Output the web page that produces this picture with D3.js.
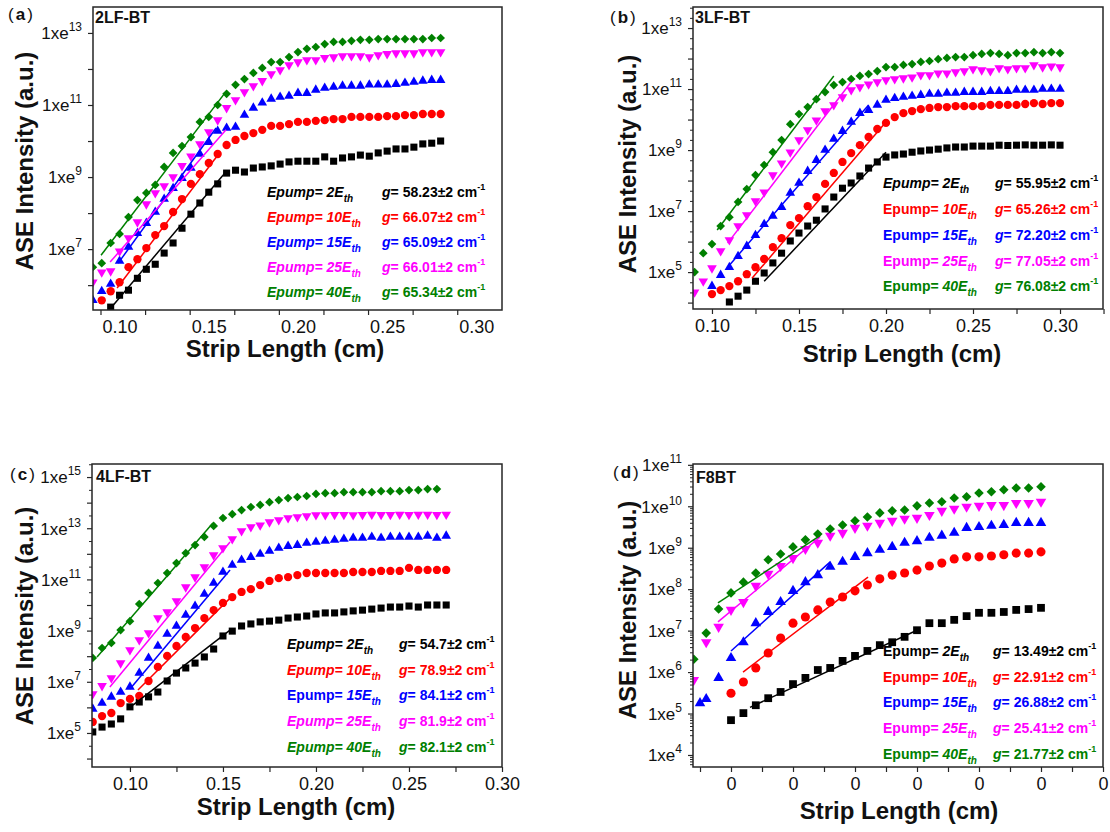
<!DOCTYPE html>
<html><head><meta charset="utf-8">
<script src="https://cdn.jsdelivr.net/npm/d3@7/dist/d3.min.js"></script>
<style>
body{margin:0;background:#fff;}
svg{display:block;font-family:"Liberation Sans",Arial,Helvetica,sans-serif;}
</style></head><body>
<svg id="chart" width="1110" height="832"></svg>
<script>
// ---------------- DATA ----------------
const PUMP = ["2", "10", "15", "25", "40"];           // Epump in units of E_th
const COLORS = ["#000000", "#ff0000", "#0000ff", "#ff00ff", "#008000"];
const SHAPES = ["square", "circle", "triUp", "triDown", "diamond"];

// (a) 2LF-BT  -- strip length (cm) and log10(ASE intensity)
const A_X = [0.085,0.09,0.095,0.10,0.105,0.11,0.115,0.12,0.125,0.13,0.135,0.14,0.145,0.15,0.155,0.16,0.165,0.17,0.175,0.18,0.185,0.19,0.195,0.20,0.205,0.21,0.215,0.22,0.225,0.23,0.235,0.24,0.245,0.25,0.255,0.26,0.265,0.27,0.275,0.28];
const A_LOG_2  = [null,null,5.39,5.72,5.86,6.19,6.44,6.58,6.89,7.17,7.58,7.97,8.28,8.58,8.81,9.11,9.19,9.14,9.25,9.28,9.31,9.36,9.42,9.44,9.44,9.44,9.56,9.44,9.53,9.56,9.61,9.58,9.67,9.72,9.78,9.78,9.83,9.92,9.94,10.00];
const A_LOG_10 = [null,5.58,5.83,6.08,6.50,6.72,7.03,7.39,7.64,8.03,8.39,8.81,9.08,9.39,9.64,9.89,10.03,10.14,10.22,10.31,10.42,10.42,10.47,10.53,10.53,10.56,10.58,10.61,10.61,10.67,10.67,10.67,10.67,10.69,10.69,10.72,10.72,10.75,10.75,10.75];
const A_LOG_15 = [5.58,5.83,6.03,6.67,7.06,7.44,7.72,8.03,8.39,8.69,8.97,9.25,9.64,9.97,10.28,10.36,10.39,10.72,10.92,11.06,11.17,11.22,11.25,11.33,11.33,11.42,11.47,11.50,11.53,11.53,11.53,11.56,11.56,11.56,11.58,11.61,11.64,11.67,11.69,11.69];
const A_LOG_25 = [6.08,6.36,6.39,6.94,7.31,7.75,8.25,8.56,8.75,9.00,9.31,9.58,9.92,10.25,10.58,10.92,11.14,11.36,11.53,11.67,11.86,11.97,12.11,12.19,12.25,12.25,12.31,12.33,12.36,12.36,12.36,12.33,12.39,12.42,12.44,12.44,12.44,12.47,12.47,12.47];
const A_LOG_40 = [6.50,6.61,7.17,7.42,7.89,8.36,8.56,8.78,9.28,9.67,9.86,10.11,10.53,10.67,11.00,11.31,11.56,11.72,11.89,12.03,12.19,12.19,12.33,12.47,12.56,12.61,12.69,12.75,12.75,12.78,12.81,12.81,12.83,12.83,12.83,12.83,12.83,12.83,12.86,12.86];
const A_FIT = [[0.095,5.36,0.160,9.17],[0.0986,5.92,0.1563,9.69],[0.0992,6.61,0.1541,10.36],[0.0947,6.64,0.1597,10.31],[0.0896,6.83,0.159,11.33]];
const A_GAIN = ["58.23","66.07","65.09","66.01","65.34"];

// (b) 3LF-BT
const B_X = [0.09,0.095,0.10,0.105,0.11,0.115,0.12,0.125,0.13,0.135,0.14,0.145,0.15,0.155,0.16,0.165,0.17,0.175,0.18,0.185,0.19,0.195,0.20,0.205,0.21,0.215,0.22,0.225,0.23,0.235,0.24,0.245,0.25,0.255,0.26,0.265,0.27,0.275,0.28,0.285,0.29,0.295,0.30];
const B_LOG_2  = [null,null,null,null,4.02,4.21,4.41,4.70,4.97,5.30,5.62,6.02,6.28,6.51,6.70,7.07,7.46,7.75,7.92,8.15,8.41,8.61,8.77,8.84,8.87,8.93,8.97,9.00,9.03,9.07,9.10,9.10,9.13,9.13,9.13,9.16,9.15,9.16,9.17,9.16,9.16,9.17,9.16];
const B_LOG_10 = [null,null,4.28,4.41,4.54,4.70,4.93,5.16,5.43,5.82,6.11,6.54,6.77,7.16,7.46,7.89,8.25,8.61,8.90,9.16,9.43,9.69,9.89,10.08,10.21,10.28,10.34,10.38,10.41,10.41,10.44,10.44,10.44,10.44,10.48,10.48,10.48,10.48,10.51,10.54,10.51,10.54,10.54];
const B_LOG_15 = [null,null,4.54,4.90,5.16,5.52,5.85,6.21,6.57,6.84,7.13,7.59,7.92,8.31,8.67,9.00,9.36,9.62,9.92,10.21,10.31,10.48,10.64,10.70,10.74,10.77,10.80,10.84,10.84,10.87,10.87,10.90,10.90,10.90,10.93,10.93,10.93,10.97,10.97,10.97,11.00,11.00,11.00];
const B_LOG_25 = [4.34,4.70,5.13,5.69,6.05,6.51,6.87,7.33,7.62,8.18,8.57,8.93,9.33,9.66,9.98,10.28,10.48,10.74,10.97,11.07,11.16,11.23,11.30,11.33,11.36,11.39,11.46,11.46,11.52,11.52,11.56,11.59,11.66,11.62,11.59,11.69,11.66,11.69,11.69,11.79,11.72,11.75,11.72];
const B_LOG_40 = [5.00,5.62,5.92,6.51,6.80,7.30,7.72,8.18,8.51,8.93,9.33,9.85,10.18,10.41,10.67,10.90,11.13,11.23,11.33,11.43,11.49,11.59,11.72,11.72,11.79,11.82,11.89,11.92,11.98,12.02,12.05,12.05,12.11,12.15,12.18,12.15,12.11,12.18,12.18,12.21,12.18,12.21,12.18];
const B_FIT = [[0.130,4.70,0.200,8.93],[0.123,4.80,0.200,9.92],[0.109,5.16,0.190,10.48],[0.109,5.95,0.180,11.23],[0.103,6.38,0.170,11.43]];
const B_GAIN = ["55.95","65.26","72.20","77.05","76.08"];

// (c) 4LF-BT
const C_X = [0.08,0.085,0.09,0.095,0.10,0.105,0.11,0.115,0.12,0.125,0.13,0.135,0.14,0.145,0.15,0.155,0.16,0.165,0.17,0.175,0.18,0.185,0.19,0.195,0.20,0.205,0.21,0.215,0.22,0.225,0.23,0.235,0.24,0.245,0.25,0.255,0.26,0.265,0.27];
const C_LOG_2  = [5.04,5.23,5.35,5.55,6.02,6.21,6.41,6.60,7.03,7.34,7.54,7.73,7.97,8.28,8.79,8.98,9.18,9.26,9.34,9.37,9.41,9.49,9.53,9.57,9.65,9.69,9.69,9.73,9.77,9.80,9.84,9.88,9.92,9.92,9.96,9.92,10.00,10.00,10.00];
const C_LOG_10 = [5.43,5.66,5.78,6.17,6.33,6.45,7.03,7.58,8.01,8.40,8.75,9.10,9.49,9.80,10.08,10.31,10.51,10.62,10.78,10.94,11.05,11.09,11.17,11.25,11.25,11.25,11.25,11.25,11.29,11.29,11.29,11.33,11.33,11.33,11.45,11.37,11.37,11.37,11.37];
const C_LOG_15 = [5.94,6.17,6.41,6.60,6.80,7.34,7.93,8.40,8.87,9.18,9.61,9.96,10.43,10.86,11.29,11.56,11.76,11.87,11.99,12.11,12.23,12.30,12.34,12.42,12.46,12.50,12.54,12.58,12.62,12.62,12.66,12.62,12.66,12.66,12.66,12.66,12.70,12.62,12.70];
const C_LOG_25 = [6.52,6.84,7.15,7.73,8.24,8.63,8.91,9.49,9.73,10.16,10.70,11.09,11.48,11.95,12.23,12.58,12.89,13.05,13.12,13.24,13.32,13.40,13.44,13.48,13.52,13.52,13.53,13.53,13.52,13.53,13.54,13.53,13.53,13.54,13.53,13.54,13.54,13.53,13.54];
const C_LOG_40 = [7.93,8.32,8.52,9.02,9.37,10.04,10.47,10.86,11.25,11.64,12.03,12.34,12.66,13.09,13.40,13.55,13.71,13.83,13.91,14.02,14.10,14.18,14.22,14.26,14.34,14.37,14.37,14.41,14.41,14.41,14.41,14.45,14.45,14.45,14.49,14.49,14.53,14.53,null];
const C_FIT = [[0.1016,6.09,0.1538,9.02],[0.1043,6.68,0.1538,10.27],[0.100,6.72,0.1538,11.37],[0.0892,6.80,0.1538,12.46],[0.0823,7.97,0.1446,13.20]];
const C_GAIN = ["54.7","78.9","84.1","81.9","82.1"];

// (d) F8BT
const D_X = [0.07,0.075,0.08,0.09,0.10,0.11,0.12,0.13,0.14,0.15,0.16,0.17,0.18,0.19,0.20,0.21,0.22,0.23,0.24,0.25,0.26,0.27,0.28,0.29,0.30,0.31,0.32,0.33,0.34,0.35];
const D_LOG_2  = [null,null,null,null,4.84,5.01,5.20,5.37,5.52,5.71,5.86,6.05,6.10,6.27,6.39,6.51,6.65,6.72,6.85,7.01,7.18,7.18,7.26,7.35,7.43,7.43,7.45,7.50,7.52,7.55];
const D_LOG_10 = [null,null,null,null,5.49,5.76,6.10,6.46,6.82,7.18,7.33,7.50,7.69,7.81,7.96,8.10,8.25,8.34,8.39,8.46,8.56,8.63,8.73,8.78,8.78,8.80,8.83,8.87,8.87,8.90];
const D_LOG_15 = [null,5.25,5.35,5.86,6.34,6.72,7.18,7.45,7.69,7.96,8.17,8.34,8.54,8.66,8.78,8.87,8.95,9.02,9.12,9.16,9.24,9.29,9.36,9.48,9.50,9.53,9.55,9.60,9.60,9.60];
const D_LOG_25 = [5.81,null,6.72,7.09,7.50,7.69,8.08,8.37,8.56,8.75,8.97,9.12,9.29,9.36,9.48,9.53,9.60,9.65,9.70,9.72,9.79,9.89,9.94,9.99,10.01,10.03,10.03,10.08,10.08,10.11];
const D_LOG_40 = [6.31,null,6.94,7.52,7.91,8.17,8.39,8.71,8.85,9.02,9.19,9.33,9.45,9.55,9.65,9.74,9.84,9.89,9.91,10.01,10.08,10.11,10.20,10.23,10.32,10.35,10.40,10.44,10.44,10.47];
const D_FIT = [[0.1153,5.15,0.25,7.01],[0.1097,6.00,0.2105,8.29],[0.100,6.51,0.18,8.66],[0.0895,7.21,0.1718,9.26],[0.0895,7.67,0.1718,9.29]];
const D_GAIN = ["13.49","22.91","26.88","25.41","21.77"];

// tick labels
const X_LABELS_ABC = [0.10,0.15,0.20,0.25,0.30];
const A_XTICK_MARKS = [0.0893,0.1143,0.1393,0.1643,0.1893,0.2143,0.2393,0.2643,0.2893];
const B_XTICK_MARKS = [0.10,0.125,0.15,0.175,0.20,0.225,0.25,0.275,0.30,0.325];
const C_XTICK_MARKS = [0.10,0.125,0.15,0.175,0.20,0.225,0.25,0.275,0.30];
const D_XTICK_MARKS = [0.075,0.10,0.125,0.15,0.175,0.20,0.225,0.25,0.275,0.30,0.325,0.35,0.375,0.40];
const D_X_LABELS = [0.10,0.15,0.20,0.25,0.30,0.35,0.40];
const A_Y_LABEL_EXP = [7,9,11,13];
const B_Y_LABEL_EXP = [5,7,9,11,13];
const C_Y_LABEL_EXP = [5,7,9,11,13,15];
const D_Y_LABEL_EXP = [4,5,6,7,8,9,10,11];

// ---------------- LAYOUT ----------------
const PANELS = [
  {tag:"a", name:"2LF-BT", rect:[93,7,502,310], xDomain:[0.0851,0.3144], yLog:[5.31,13.72],
   xs:A_X, series:[A_LOG_2,A_LOG_10,A_LOG_15,A_LOG_25,A_LOG_40], fits:A_FIT, gains:A_GAIN,
   xLabels:X_LABELS_ABC, xMarks:A_XTICK_MARKS, xFmt:".2f", yLabels:A_Y_LABEL_EXP, minor:"none",
   tagPos:[8,20], namePos:[95,23], yTitle:[33,161], xTitle:[285,357],
   legX:[267,382], legY:[197,222,247,272,297], legItalic:[1,1,1,1,1], mscale:1},
  {tag:"b", name:"3LF-BT", rect:[693,7,1103,309], xDomain:[0.0891,0.3247], yLog:[3.79,13.69],
   xs:B_X, series:[B_LOG_2,B_LOG_10,B_LOG_15,B_LOG_25,B_LOG_40], fits:B_FIT, gains:B_GAIN,
   xLabels:X_LABELS_ABC, xMarks:B_XTICK_MARKS, xFmt:".2f", yLabels:B_Y_LABEL_EXP, minor:"third",
   tagPos:[610,23], namePos:[695,23], yTitle:[636,164], xTitle:[902,362],
   legX:[883,995], legY:[188,214,240,266,291], legItalic:[1,0,0,0,0], mscale:1},
  {tag:"c", name:"4LF-BT", rect:[92,464,502,767], xDomain:[0.0796,0.30], yLog:[3.67,15.51],
   xs:C_X, series:[C_LOG_2,C_LOG_10,C_LOG_15,C_LOG_25,C_LOG_40], fits:C_FIT, gains:C_GAIN,
   xLabels:X_LABELS_ABC, xMarks:C_XTICK_MARKS, xFmt:".2f", yLabels:C_Y_LABEL_EXP, minor:"half",
   tagPos:[10,480], namePos:[96,482], yTitle:[33,616], xTitle:[296,815],
   legX:[287,399], legY:[649,675,700,726,752], legItalic:[1,1,0,1,1], mscale:1},
  {tag:"d", name:"F8BT", rect:[693,464,1103,767], xDomain:[0.06935,0.40], yLog:[3.71,11.02],
   xs:D_X, series:[D_LOG_2,D_LOG_10,D_LOG_15,D_LOG_25,D_LOG_40], fits:D_FIT, gains:D_GAIN,
   xLabels:D_X_LABELS, xMarks:D_XTICK_MARKS, xFmt:".0f", yLabels:D_Y_LABEL_EXP, minor:"log",
   tagPos:[613,478], namePos:[696,483], yTitle:[636,610], xTitle:[899,819],
   legX:[883,993], legY:[656,682,707,733,759], legItalic:[0,0,0,0,0], mscale:1.1}
];

const svg = d3.select("#chart");
const AX = "#262626";

function symbolFor(shape, k) {
  if (shape === "square") return d3.symbol().type(d3.symbolSquare).size(50*k*k)();
  if (shape === "circle") return d3.symbol().type(d3.symbolCircle).size(54*k*k)();
  if (shape === "diamond") return d3.symbol().type(d3.symbolSquare).size(38*k*k)();
  return d3.symbol().type(d3.symbolTriangle).size(40*k*k)();
}
function rotFor(shape) {
  if (shape === "diamond") return " rotate(45)";
  if (shape === "triDown") return " rotate(180)";
  return "";
}

PANELS.forEach((p) => {
  const [x0, y0, x1, y1] = p.rect;
  const x = d3.scaleLinear().domain(p.xDomain).range([x0, x1]);
  const y = d3.scaleLog().domain([Math.pow(10, p.yLog[0]), Math.pow(10, p.yLog[1])]).range([y1, y0]);
  const g = svg.append("g");
  const clipId = "clip" + p.tag;
  svg.append("clipPath").attr("id", clipId).append("rect")
    .attr("x", x0).attr("y", y0).attr("width", x1 - x0).attr("height", y1 - y0);
  const plot = g.append("g").attr("clip-path", `url(#${clipId})`);

  // markers
  p.series.forEach((s, i) => {
    const pts = p.xs.map((xv, j) => [xv, s[j]]).filter(d => d[1] !== null);
    const path = symbolFor(SHAPES[i], p.mscale);
    plot.append("g").selectAll("path").data(pts).enter().append("path")
      .attr("d", path)
      .attr("transform", d => `translate(${x(d[0])},${y(Math.pow(10, d[1]))})${rotFor(SHAPES[i])}`)
      .attr("fill", COLORS[i]);
  });
  // fit lines
  p.fits.forEach((f, i) => {
    plot.append("line")
      .attr("x1", x(f[0])).attr("y1", y(Math.pow(10, f[1])))
      .attr("x2", x(f[2])).attr("y2", y(Math.pow(10, f[3])))
      .attr("stroke", COLORS[i]).attr("stroke-width", 1.5);
  });

  // x axis tick marks
  const gx = g.append("g").attr("transform", `translate(0,${y1})`).style("color", AX)
    .call(d3.axisBottom(x).tickValues(p.xMarks).tickSize(5).tickSizeOuter(0).tickFormat(""));
  gx.select(".domain").remove();
  gx.selectAll(".tick line").attr("stroke-width", 1.2);
  const gxl = g.append("g").attr("transform", `translate(0,${y1})`)
    .call(d3.axisBottom(x).tickValues(p.xLabels).tickSize(0).tickPadding(10).tickFormat(d3.format(p.xFmt)));
  gxl.select(".domain").remove();
  gxl.selectAll("text").attr("font-size", 18).attr("fill", "#111").attr("font-family", "Liberation Sans, Arial, sans-serif");

  // y axis major ticks (each decade)
  const lo = Math.ceil(p.yLog[0]), hi = Math.floor(p.yLog[1]);
  const majors = d3.range(lo, hi + 1).map(e => Math.pow(10, e));
  const gy = g.append("g").attr("transform", `translate(${x0},0)`).style("color", AX)
    .call(d3.axisLeft(y).tickValues(majors).tickSize(5).tickSizeOuter(0).tickFormat(""));
  gy.select(".domain").remove();
  gy.selectAll(".tick line").attr("stroke-width", 1.2);
  // minor ticks
  let minors = [];
  const eRange = d3.range(Math.floor(p.yLog[0]), Math.ceil(p.yLog[1]) + 1);
  if (p.minor === "third") eRange.forEach(e => { minors.push(e + 1/3, e + 2/3); });
  if (p.minor === "half") eRange.forEach(e => { minors.push(e + 0.5); });
  if (p.minor === "log") eRange.forEach(e => { d3.range(2, 10).forEach(m => minors.push(e + Math.log10(m))); });
  minors = minors.filter(v => v > p.yLog[0] && v < p.yLog[1]).map(v => Math.pow(10, v));
  if (minors.length) {
    const gm = g.append("g").attr("transform", `translate(${x0},0)`).style("color", AX)
      .call(d3.axisLeft(y).tickValues(minors).tickSize(3).tickSizeOuter(0).tickFormat(""));
    gm.select(".domain").remove();
    gm.selectAll(".tick line").attr("stroke-width", 1);
  }
  // y labels  1xe^n
  const gyl = g.append("g").attr("transform", `translate(${x0},0)`)
    .call(d3.axisLeft(y).tickValues(p.yLabels.map(e => Math.pow(10, e))).tickSize(0).tickPadding(11).tickFormat(""));
  gyl.select(".domain").remove();
  gyl.selectAll(".tick text").attr("font-size", 17).attr("fill", "#111").attr("dy", "0.34em")
    .each(function(d) {
      const t = d3.select(this);
      t.append("tspan").text("1xe");
      t.append("tspan").attr("font-size", 12).attr("dy", -8).text(Math.round(Math.log10(d)));
    });

  // frame
  g.append("rect").attr("x", x0).attr("y", y0).attr("width", x1 - x0).attr("height", y1 - y0)
    .attr("fill", "none").attr("stroke", AX).attr("stroke-width", 1.5);

  // panel tag
  const tg = g.append("text").attr("x", p.tagPos[0]).attr("y", p.tagPos[1]).attr("font-size", 17).attr("fill", "#111");
  tg.append("tspan").text("(");
  tg.append("tspan").attr("dx", 2).attr("font-weight", "bold").text(p.tag);
  tg.append("tspan").attr("dx", 2).text(")");
  // sample name
  g.append("text").attr("x", p.namePos[0]).attr("y", p.namePos[1]).attr("font-size", 16)
    .attr("font-weight", "bold").attr("fill", "#111").text(p.name);

  // axis titles
  g.append("text").attr("transform", `translate(${p.yTitle[0]},${p.yTitle[1]}) rotate(-90)`)
    .attr("text-anchor", "middle").attr("font-size", 24).attr("font-weight", "bold").attr("fill", "#111")
    .text("ASE Intensity (a.u.)");
  g.append("text").attr("x", p.xTitle[0]).attr("y", p.xTitle[1])
    .attr("text-anchor", "middle").attr("font-size", 24).attr("font-weight", "bold").attr("fill", "#111")
    .text("Strip Length (cm)");

  // legend
  PUMP.forEach((pm, i) => {
    const t = g.append("text").attr("x", p.legX[0]).attr("y", p.legY[i])
      .attr("font-size", 14).attr("font-weight", "bold").attr("fill", COLORS[i]);
    t.append("tspan").attr("font-style", p.legItalic[i] ? "italic" : "normal").text("Epump=\u00A0");
    t.append("tspan").attr("font-style", "italic").text(pm + "E");
    t.append("tspan").attr("font-style", "italic").attr("font-size", 10).attr("dy", 5).text("th");
    const t2 = g.append("text").attr("x", p.legX[1]).attr("y", p.legY[i])
      .attr("font-size", 14).attr("font-weight", "bold").attr("fill", COLORS[i]);
    t2.append("tspan").attr("font-style", "italic").text("g");
    t2.append("tspan").text("=\u00A0" + p.gains[i] + "\u00B12 cm");
    t2.append("tspan").attr("font-size", 9).attr("dy", -7).text("-1");
  });
});
</script>
</body></html>
